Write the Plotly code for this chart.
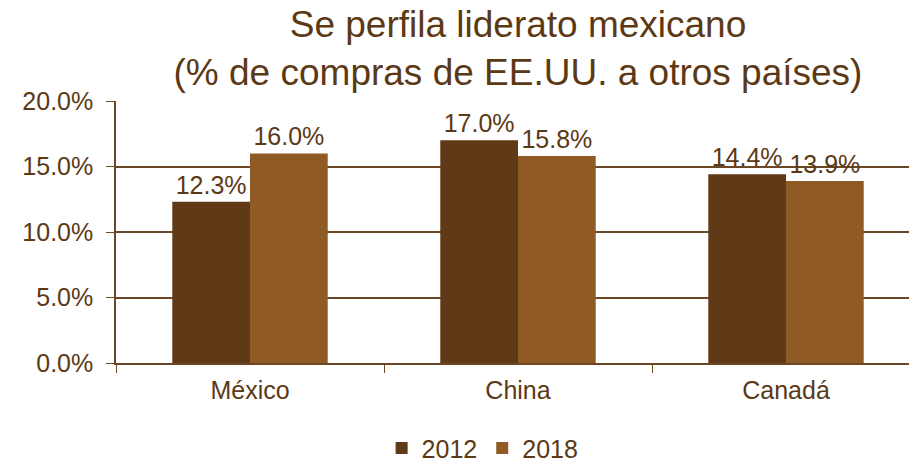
import plotly.graph_objects as go

# Datos
paises = ["México", "China", "Canadá"]
valores_2012 = [12.3, 17.0, 14.4]
valores_2018 = [16.0, 15.8, 13.9]
anios = ["2012", "2018"]

cafe_texto = "#5C3915"
cafe_oscuro = "#603A16"
cafe_claro = "#8F5A23"
cafe_linea = "#6B4726"
fuente = "Liberation Sans, Arial, sans-serif"

fig = go.Figure()

for anio, valores, color in zip(anios, [valores_2012, valores_2018], [cafe_oscuro, cafe_claro]):
    fig.add_trace(go.Bar(
        x=paises,
        y=valores,
        name=anio,
        marker=dict(color=color, line=dict(width=0)),
        text=[f"{v:.1f}%" for v in valores],
        textposition="outside",
        textfont=dict(size=25, color=cafe_texto, family=fuente),
        cliponaxis=False,
    ))

# la página añade ~8px de margen, se compensa en los márgenes
fig.update_layout(
    width=917,
    height=459,
    margin=dict(l=108, r=5, t=93, b=104),
    paper_bgcolor="white",
    plot_bgcolor="white",
    barmode="group",
    bargap=0.42,
    bargroupgap=0,
    font=dict(family=fuente, size=25, color=cafe_texto),
    title=dict(
        text="Se perfila liderato mexicano<br>(% de compras de EE.UU. a otros países)",
        font=dict(size=37, color=cafe_texto, family=fuente),
        x=0.5,
        xref="paper",
        xanchor="center",
        yref="container",
        y=0.937,
        yanchor="bottom",
    ),
    legend=dict(
        orientation="h",
        x=0.456,
        xanchor="center",
        yref="container",
        y=0.041,
        yanchor="middle",
        font=dict(size=25, color=cafe_texto),
        traceorder="normal",
    ),
)

fig.update_yaxes(
    range=[0, 20],
    tickvals=[0, 5, 10, 15, 20],
    ticktext=["0.0%", "5.0%", "10.0%", "15.0%", "20.0%"],
    showgrid=True,
    gridcolor=cafe_linea,
    gridwidth=1.5,
    showline=True,
    linecolor=cafe_linea,
    linewidth=1.5,
    ticks="outside",
    ticklen=8,
    tickcolor=cafe_linea,
    ticklabelstandoff=8,
    zeroline=False,
    automargin=False,
)

fig.update_xaxes(
    showline=True,
    linecolor=cafe_linea,
    linewidth=1.5,
    ticks="outside",
    tickson="boundaries",
    ticklen=8,
    tickcolor=cafe_linea,
    ticklabelstandoff=4,
    automargin=False,
)

fig.write_html("out.html")
